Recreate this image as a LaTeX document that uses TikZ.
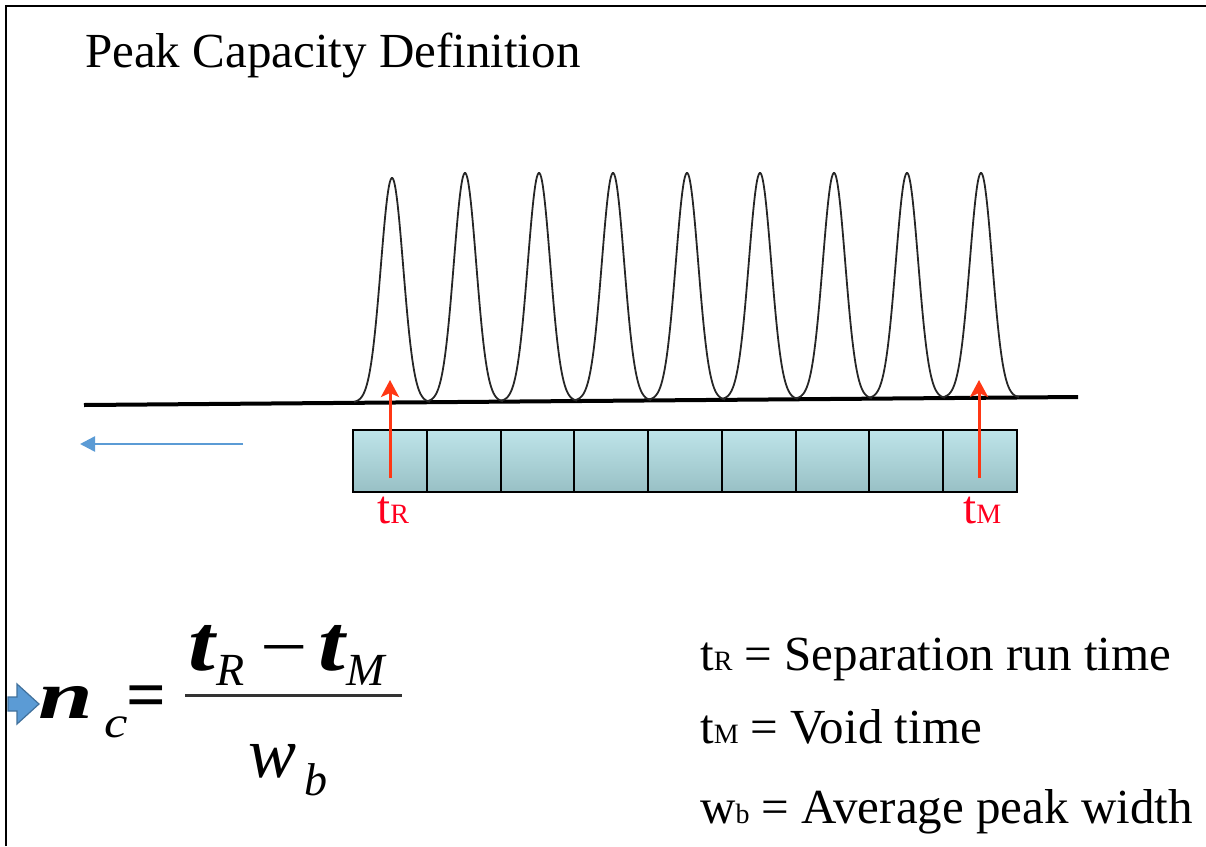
\documentclass[tikz,border=0pt]{standalone}
\usepackage{fontspec}
\setmainfont{Liberation Serif}
\usepackage{graphicx}
\usetikzlibrary{arrows.meta}
\definecolor{cellTop}{RGB}{190,228,233}
\definecolor{cellBot}{RGB}{152,192,197}
\definecolor{markRed}{RGB}{255,55,20}
\definecolor{labelRed}{RGB}{255,0,30}
\definecolor{flowBlue}{RGB}{91,155,213}
\definecolor{flowEdge}{RGB}{65,113,156}
\newcommand{\fsz}[1]{\fontsize{#1}{#1}\selectfont}

\begin{document}
\begin{tikzpicture}[x=1pt,y=-1pt,
    cell/.style={draw,line width=2pt,top color=cellTop,bottom color=cellBot,
      minimum width=73.8pt,minimum height=62pt,inner sep=0pt},
    marker/.style={draw=markRed,line width=3pt,-{Stealth[length=17pt,width=18pt,inset=4pt]}},
    mlabel/.style={text=labelRed,font=\fsz{47},anchor=base west,inner sep=0pt},
    legend/.style={font=\fsz{49},anchor=base west,inner sep=0pt},
    eq/.style={anchor=base west,inner sep=0pt},
    peak/.style={line width=1.8pt,black!85}]
                \useasboundingbox (0,0) rectangle (1206,846);
                \draw[line width=2.5pt] (6,846) -- (6,6) -- (1206,6);

                \node[legend] (title) at (85,67) {Peak Capacity Definition};

                % chromatogram
                \draw[line width=4pt] (84,405) -- (1078,397);
                \foreach \cx/\tp in {392/178,465/173,539/173,613/173,687/173,760/173,834/173,907/173,981/173}{
                    \pgfmathsetmacro\yb{405-0.00806*(\cx-85)}
                    \draw[peak] plot[domain=-38:38,samples=90,smooth]
                        ({\cx+\x},{\yb-(\yb-\tp)*exp(-(\x*\x)/250)});
                }

                % column
                \foreach \i in {1,...,9}
                    \node[cell] (cell\i) at ({353+73.78*(\i-0.5)},461) {};

                \coordinate (tRfoot) at (390,478);
                \coordinate (tRtip) at (390,380);
                \coordinate (tMfoot) at (979,478);
                \coordinate (tMtip) at (979,380);
                \draw[marker] (tRfoot) -- (tRtip);
                \draw[marker] (tMfoot) -- (tMtip);
                \node[mlabel] (tRlab) at (377,523) {t{\fsz{28}R}};
                \node[mlabel] (tMlab) at (963,523) {t{\fsz{28}M}};

                \coordinate (flowStart) at (243,444);
                \coordinate (flowEnd) at (80,444);
                \draw[flowBlue,line width=2.5pt,-{Triangle[length=15pt,width=15pt]}] (flowStart) -- (flowEnd);

                % formula
                \filldraw[fill=flowBlue,draw=flowEdge,line width=1.2pt]
                    (8,697) -- (17,697) -- (17,684) -- (39,704) -- (17,724) -- (17,711) -- (8,711) -- cycle;
                \node[eq,font=\fsz{68}] (nsym) at (38,718) {\scalebox{1.45}[1]{\textbf{\textit{n}}}};
                \node[eq,font=\fsz{44}] (csym) at (104,737) {\scalebox{1.2}[1]{\textit{c}}};
                \node[eq,font=\fsz{70}] (eqsign) at (126,718) {\textbf{=}};
                \draw[line width=3pt,black!80] (185,695) -- (402,695);
                \node[eq,font=\fsz{80}] (tnum) at (188,670) {\scalebox{1.2}[1]{\textbf{\textit{t}}}};
                \node[eq,font=\fsz{46}] (Rsub) at (216,685) {\textit{R}};
                \node[eq,font=\fsz{70}] (minus) at (260,670) {\scalebox{1.2}[1]{−}};
                \node[eq,font=\fsz{80}] (tnum2) at (318,670) {\scalebox{1.2}[1]{\textbf{\textit{t}}}};
                \node[eq,font=\fsz{46}] (Msub) at (346,685) {\textit{M}};
                \node[eq,font=\fsz{72}] (wsym) at (248,777) {\textit{w}};
                \node[eq,font=\fsz{46}] (bsym) at (304,795) {\textit{b}};

                % legend
                \node[legend] (defR) at (700,670) {t{\fsz{28}R} = Separation run time};
                \node[legend] (defM) at (700,743) {t{\fsz{28}M} = Void time};
                \node[legend] (defW) at (700,823) {w{\fsz{28}b} = Average peak width};
            \end{tikzpicture}
\end{document}
